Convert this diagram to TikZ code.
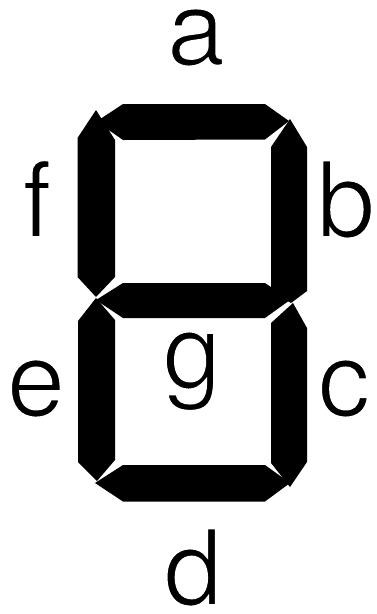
\documentclass[tikz,border=0pt]{standalone}
\usepackage{fontspec}
\setmainfont{TeX Gyre Heros}
\newcommand{\thinletter}[1]{\special{pdf:literal direct 2 Tr 1 1 1 RG 2 w}#1\special{pdf:literal direct 0 Tr 0 0 0 RG 0.4 w}}
\begin{document}
\begin{tikzpicture}[x=1pt,y=-1pt,
  seg/.style={fill=black,draw=none},
  lbl/.style={inner sep=0pt,anchor=base,font=\fontsize{105}{105}\selectfont}]
\useasboundingbox (0,0) rectangle (376,614);
% segments
\fill[seg] (96.5,121.5) -- (123,104) -- (265,104) -- (289,121) -- (265,139.5) -- (123,140) -- cycle; % a
\fill[seg] (96,110) -- (115,140) -- (115,277) -- (96,297) -- (77.5,277) -- (77.5,138) -- cycle; % f
\fill[seg] (290,119) -- (307,147) -- (307,291) -- (291,303) -- (271,291) -- (271,147) -- cycle; % b
\fill[seg] (96,300) -- (123,283) -- (265,283) -- (290,300) -- (265,318) -- (123,318) -- cycle; % g
\fill[seg] (96,298) -- (115,320) -- (115,460) -- (97,481) -- (78,462) -- (78,321) -- cycle; % e
\fill[seg] (293,303) -- (307,328) -- (307,462) -- (290,487) -- (271,463) -- (271,323) -- cycle; % c
\fill[seg] (95,483) -- (123,465) -- (265,465) -- (290,483) -- (265,501.5) -- (123,501.5) -- cycle; % d
% labels
\node[lbl] (la) at (196,65) {\thinletter{a}};
\node[lbl] (lf) at (37,237) {\thinletter{f}};
\node[lbl] (lb) at (346,237) {\thinletter{b}};
\node[lbl] (le) at (36,416) {\thinletter{e}};
\node[lbl] (lc) at (344,416) {\thinletter{c}};
\node[lbl] (lg) at (192,388) {\thinletter{g}};
\node[lbl] (ld) at (193,605) {\thinletter{d}};
\end{tikzpicture}
\end{document}
